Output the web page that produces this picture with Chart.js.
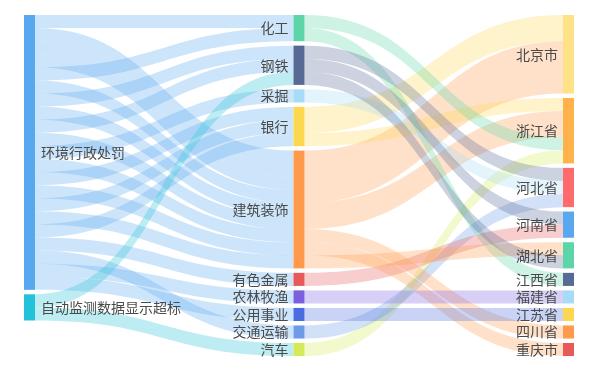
<!DOCTYPE html>
<html>
<head>
<meta charset="utf-8">
<script src="https://cdn.jsdelivr.net/npm/chart.js@4.4.1/dist/chart.umd.min.js"></script>
<style>
  html, body { margin: 0; padding: 0; background: #ffffff; }
  #wrap { width: 600px; height: 386px; position: relative; }
</style>
</head>
<body>
<div id="wrap"><canvas id="c"></canvas></div>
<script>
// ---------------- data ----------------
const penaltyTypes = ['环境行政处罚', '自动监测数据显示超标'];
const industries = ['化工', '钢铁', '采掘', '银行', '建筑装饰', '有色金属', '农林牧渔', '公用事业', '交通运输', '汽车'];
const provinces = ['北京市', '浙江省', '河北省', '河南省', '湖北省', '江西省', '福建省', '江苏省', '四川省', '重庆市'];

// flows: penalty type -> industry (record order)
const flow1 = [
  ['环境行政处罚', '化工', 1],
  ['环境行政处罚', '建筑装饰', 3],
  ['环境行政处罚', '化工', 1],
  ['环境行政处罚', '建筑装饰', 1],
  ['环境行政处罚', '钢铁', 1],
  ['环境行政处罚', '建筑装饰', 1],
  ['环境行政处罚', '钢铁', 1],
  ['环境行政处罚', '建筑装饰', 1],
  ['环境行政处罚', '采掘', 1],
  ['环境行政处罚', '建筑装饰', 1],
  ['环境行政处罚', '银行', 1],
  ['环境行政处罚', '建筑装饰', 1],
  ['环境行政处罚', '银行', 1],
  ['环境行政处罚', '建筑装饰', 1],
  ['环境行政处罚', '银行', 1],
  ['环境行政处罚', '有色金属', 1],
  ['环境行政处罚', '交通运输', 1],
  ['环境行政处罚', '农林牧渔', 1],
  ['环境行政处罚', '公用事业', 1],
  ['自动监测数据显示超标', '钢铁', 1],
  ['自动监测数据显示超标', '汽车', 1]
];
// flows: industry -> province (record order)
const flow2 = [
  ['银行', '北京市', 2],
  ['建筑装饰', '北京市', 4],
  ['银行', '浙江省', 1],
  ['建筑装饰', '浙江省', 2],
  ['化工', '浙江省', 1],
  ['汽车', '浙江省', 1],
  ['化工', '江西省', 1],
  ['钢铁', '河北省', 1],
  ['采掘', '河北省', 1],
  ['交通运输', '河北省', 1],
  ['钢铁', '河南省', 1],
  ['有色金属', '河南省', 1],
  ['建筑装饰', '四川省', 1],
  ['建筑装饰', '重庆市', 1],
  ['建筑装饰', '湖北省', 1],
  ['钢铁', '湖北省', 1],
  ['农林牧渔', '福建省', 1],
  ['公用事业', '江苏省', 1]
];

// ---------------- style ----------------
const nodeColors = {
  '环境行政处罚': '#58a8f0', '自动监测数据显示超标': '#23c2d8',
  '化工': '#5cd6a8', '钢铁': '#566a95', '采掘': '#a6dcf7', '银行': '#fdd84e', '建筑装饰': '#ff9a4d',
  '有色金属': '#e85a5a', '农林牧渔': '#7a5fe0', '公用事业': '#4a6ce0', '交通运输': '#6e9ae8', '汽车': '#d4ea58',
  '北京市': '#ffe286', '浙江省': '#ffb24a', '河北省': '#ff6b6b', '河南省': '#58a8f0', '湖北省': '#5cd6a8',
  '江西省': '#566a95', '福建省': '#a6dcf7', '江苏省': '#fdd84e', '四川省': '#ff9a4d', '重庆市': '#e85a5a'
};
const NODE_W = 11;
const NODE_GAP = 0.34;   // in value units
const LINK_ALPHA = 0.3;
const FONT = '14px "Noto Sans CJK SC", "Noto Sans", sans-serif';

function hexToRgba(hex, a) {
  const n = parseInt(hex.slice(1), 16);
  return 'rgba(' + ((n >> 16) & 255) + ',' + ((n >> 8) & 255) + ',' + (n & 255) + ',' + a + ')';
}

// ---------------- layout (in value units) ----------------
const columns = [penaltyTypes, industries, provinces];
const links = flow1.concat(flow2).map(r => ({ s: r[0], t: r[1], v: r[2] }));

const nodes = {};
columns.forEach((col, ci) => col.forEach(name => { nodes[name] = { name, col: ci, inV: 0, outV: 0 }; }));
links.forEach(l => { nodes[l.s].outV += l.v; nodes[l.t].inV += l.v; });
columns.forEach(col => {
  let y = 0;
  col.forEach(name => {
    const n = nodes[name];
    n.value = Math.max(n.inV, n.outV);
    n.top = y;
    y += n.value + NODE_GAP;
  });
});
const outOff = {}, inOff = {};
links.forEach(l => {
  l.sy = nodes[l.s].top + (outOff[l.s] || 0);
  l.ty = nodes[l.t].top + (inOff[l.t] || 0);
  outOff[l.s] = (outOff[l.s] || 0) + l.v;
  inOff[l.t] = (inOff[l.t] || 0) + l.v;
});

// ---------------- plugin drawing through chart scales ----------------
const sankeyPlugin = {
  id: 'sankeyPlugin',
  afterDatasetsDraw(chart) {
    const ctx = chart.ctx;
    const xs = chart.scales.x, ys = chart.scales.y;
    ctx.save();
    links.forEach(l => {
      const x0 = xs.getPixelForValue(nodes[l.s].col) + NODE_W;
      const x1 = xs.getPixelForValue(nodes[l.t].col);
      const cx = (x0 + x1) / 2;
      ctx.fillStyle = hexToRgba(nodeColors[l.s], LINK_ALPHA);
      for (let k = 0; k < l.v; k++) {
        const s0 = ys.getPixelForValue(l.sy + k), s1 = ys.getPixelForValue(l.sy + k + 1);
        const t0 = ys.getPixelForValue(l.ty + k), t1 = ys.getPixelForValue(l.ty + k + 1);
        ctx.beginPath();
        ctx.moveTo(x0, s0);
        ctx.bezierCurveTo(cx, s0, cx, t0, x1, t0);
        ctx.lineTo(x1, t1);
        ctx.bezierCurveTo(cx, t1, cx, s1, x0, s1);
        ctx.closePath();
        ctx.fill();
      }
    });
    Object.values(nodes).forEach(n => {
      const x = xs.getPixelForValue(n.col);
      const yTop = ys.getPixelForValue(n.top);
      const yBot = ys.getPixelForValue(n.top + n.value);
      ctx.fillStyle = nodeColors[n.name];
      ctx.fillRect(x, yTop, NODE_W, yBot - yTop);
    });
    ctx.font = FONT;
    ctx.fillStyle = '#4a4a4a';
    ctx.textBaseline = 'middle';
    Object.values(nodes).forEach(n => {
      const x = xs.getPixelForValue(n.col);
      const yc = (ys.getPixelForValue(n.top) + ys.getPixelForValue(n.top + n.value)) / 2;
      if (n.col === 0) {
        ctx.textAlign = 'left';
        ctx.fillText(n.name, x + NODE_W + 6, yc);
      } else {
        ctx.textAlign = 'right';
        ctx.fillText(n.name, x - 5, yc);
      }
    });
    ctx.restore();
  }
};

new Chart(document.getElementById('c'), {
  type: 'scatter',
  data: { datasets: [] },
  options: {
    responsive: true,
    maintainAspectRatio: false,
    animation: false,
    events: [],
    layout: { padding: { left: 24, right: 37, top: 15, bottom: 15 } },
    scales: {
      x: { type: 'linear', min: 0, max: 2, display: false },
      y: { type: 'linear', min: 0, max: 27.2, reverse: true, display: false }
    },
    plugins: { legend: { display: false }, tooltip: { enabled: false } }
  },
  plugins: [sankeyPlugin]
});
</script>
</body>
</html>
